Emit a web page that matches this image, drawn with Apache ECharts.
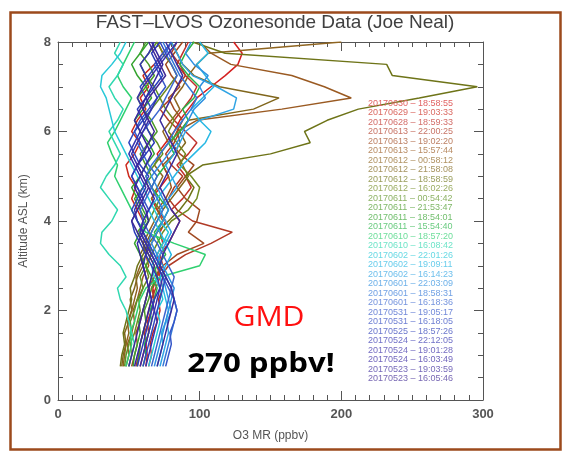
<!DOCTYPE html>
<html>
<head>
<meta charset="utf-8">
<script src="https://cdn.jsdelivr.net/npm/echarts@6/dist/echarts.min.js"></script>
<style>html,body{margin:0;padding:0;background:#fff;}#chart{width:568px;height:455px;}</style>
</head>
<body>
<div id="chart"></div>
<script>
// ---- Data ----
const altitudeKm = [0.75,1.0,1.25,1.5,1.75,2.0,2.25,2.5,2.75,3.0,3.25,3.5,3.75,4.0,4.25,4.5,4.75,5.0,5.25,5.5,5.75,6.0,6.25,6.5,6.75,7.0,7.25,7.5,7.75,8.0];
const launchNames = [
  "20170630 – 18:58:55","20170629 – 19:03:33","20170628 – 18:59:33","20170613 – 22:00:25",
  "20170613 – 19:02:20","20170613 – 15:57:44","20170612 – 00:58:12","20170612 – 21:58:08",
  "20170612 – 18:58:59","20170612 – 16:02:26","20170611 – 00:54:42","20170611 – 21:53:47",
  "20170611 – 18:54:01","20170611 – 15:54:40","20170610 – 18:57:20","20170610 – 16:08:42",
  "20170602 – 22:01:26","20170602 – 19:09:11","20170602 – 16:14:23","20170601 – 22:03:09",
  "20170601 – 18:58:31","20170601 – 16:18:36","20170531 – 19:05:17","20170531 – 16:18:05",
  "20170525 – 18:57:26","20170524 – 22:12:05","20170524 – 19:01:28","20170524 – 16:03:49",
  "20170523 – 19:03:59","20170523 – 16:05:46"
];
const ozonePpbv = [
  [62,63,62,64,63,66,68,67,70,72,70,74,72,76,70,66,72,78,74,70,76,82,86,92,98,108,118,127,130,124],
  [64,66,65,67,70,72,71,74,72,70,66,62,58,60,56,52,55,50,48,54,58,52,56,62,58,64,60,68,74,70],
  [58,60,62,61,64,66,68,66,70,74,72,78,82,86,80,88,94,90,84,92,98,90,82,88,94,98,90,84,88,92],
  [55,57,58,60,62,64,66,69,72,78,90,108,123,95,84,78,82,88,80,76,82,86,78,72,80,84,90,86,80,84],
  [52,54,56,55,58,60,62,64,68,74,84,103,92,98,100,90,84,90,96,86,80,84,88,82,78,86,80,76,82,88],
  [48,50,49,52,54,53,56,58,60,64,62,66,70,74,70,76,80,78,74,82,86,84,98,158,207,188,165,122,108,100],
  [46,47,48,50,49,52,54,56,55,58,62,60,64,68,72,66,70,74,68,72,78,74,80,86,82,88,92,98,106,200],
  [45,46,48,47,50,52,51,54,56,60,58,62,66,70,74,80,86,92,88,84,90,86,92,138,156,114,96,88,84,80],
  [44,45,47,46,48,50,52,51,54,56,60,64,70,78,86,92,96,90,102,150,178,174,190,212,255,296,236,232,118,95],
  [50,52,51,54,56,58,57,60,64,62,66,70,74,80,92,98,100,94,86,90,84,78,82,76,72,78,84,80,74,70],
  [47,48,50,52,51,54,56,60,58,62,66,64,60,64,68,72,66,62,68,74,70,64,60,66,72,68,62,58,64,70],
  [56,57,58,60,62,61,64,66,70,68,64,60,56,62,58,54,60,66,62,58,64,70,66,60,56,62,68,64,58,62],
  [53,54,56,58,57,60,62,64,66,62,58,54,58,64,60,56,52,58,62,68,64,58,54,60,66,62,56,52,58,64],
  [60,62,61,64,66,65,68,70,66,70,76,72,68,74,78,72,66,70,76,82,78,86,92,88,96,100,92,86,90,96],
  [48,50,52,51,54,56,58,62,72,100,104,82,62,56,52,48,44,40,42,38,35,40,44,48,52,46,42,46,50,54],
  [50,52,54,52,50,48,44,42,48,44,36,30,31,38,42,36,30,34,40,44,40,36,42,46,40,36,42,46,40,44],
  [64,66,68,70,72,70,74,72,68,66,70,74,78,72,68,64,60,56,52,48,44,40,38,36,34,30,31,38,44,48],
  [70,72,74,73,76,78,76,74,72,76,80,76,72,68,64,70,76,82,88,96,104,108,100,94,102,110,104,98,106,100],
  [72,74,76,78,77,80,78,76,74,70,72,76,80,76,72,78,84,80,76,82,86,90,100,124,126,112,95,88,84,80],
  [68,70,72,74,76,78,80,82,78,74,70,66,70,74,78,74,70,66,72,78,84,88,92,96,104,100,106,96,90,94],
  [74,76,78,80,82,84,82,80,76,72,68,64,66,70,74,70,66,62,66,72,78,82,88,94,98,92,86,82,78,74],
  [66,68,70,72,74,76,78,80,82,78,74,70,64,60,58,62,66,70,64,60,56,60,66,72,76,80,84,80,76,80],
  [76,78,80,79,82,84,82,78,74,70,66,62,58,60,64,60,56,52,56,62,58,54,58,64,70,76,72,68,74,80],
  [60,62,64,66,68,70,72,74,76,72,68,64,60,56,52,56,60,64,58,54,50,54,60,66,62,58,64,70,76,72],
  [56,58,60,62,64,66,68,72,70,66,62,58,54,52,56,60,56,52,56,62,68,64,60,56,62,68,74,70,66,72],
  [62,64,66,68,70,68,66,64,62,60,62,64,60,56,54,58,62,58,54,50,54,58,62,66,70,66,62,58,64,68],
  [58,60,62,64,66,68,70,72,74,70,66,62,58,60,64,68,64,60,56,52,56,60,64,60,56,60,66,72,78,84],
  [54,56,58,60,62,64,66,64,62,60,58,56,60,64,62,58,54,58,62,66,62,58,54,58,62,66,70,74,70,66],
  [70,72,74,76,78,80,82,80,76,72,74,78,82,86,80,76,72,76,80,84,80,76,72,76,80,84,88,84,80,76],
  [50,52,54,56,58,60,62,64,66,68,64,60,56,52,56,60,64,60,56,60,64,68,64,60,64,70,76,72,68,64]
];
const xTicks = [0, 100, 200, 300];
const yTicks = [0, 2, 4, 6, 8];

// ---- Styles ----
const lineColors = ["#d42020","#cc2a1e","#c0302a","#b03a26","#a04a22","#9a5a22","#8e6420","#80661c",
  "#6e7418","#708a20","#5e9224","#4a9a28","#36a430","#2ab44a","#30d070","#30d8b0","#28c8d8","#28b8e4",
  "#30a4e4","#3090e0","#3478d8","#3a66d0","#3456c8","#3048c0","#2c3cb8","#3434b0","#3a2ea8","#3626a0",
  "#3c2c9c","#402894"];
function lighten(hex, t) {
  const n = parseInt(hex.slice(1), 16);
  const r = (n >> 16) & 255, g = (n >> 8) & 255, b = n & 255;
  const m = c => Math.round(c + (255 - c) * t);
  return 'rgb(' + m(r) + ',' + m(g) + ',' + m(b) + ')';
}
const FONT = '"Liberation Sans", Arial, sans-serif';

const series = launchNames.map((name, i) => ({
  name: name,
  type: 'line',
  xAxisIndex: 0,
  yAxisIndex: 0,
  data: ozonePpbv[i].map((v, k) => [v, altitudeKm[k]]),
  showSymbol: false,
  symbol: 'none',
  smooth: false,
  lineStyle: { width: 1.5, color: lineColors[i] },
  itemStyle: { color: lineColors[i] },
  emphasis: { disabled: true },
  animation: false,
  clip: true
}));

function makeAxis(type, pos, interval, split, extra) {
  const ticks = type === 'x' ? xTicks : yTicks;
  return Object.assign({
    type: 'value',
    min: ticks[0], max: ticks[ticks.length - 1], interval: interval,
    position: pos,
    axisLine: { show: true, onZero: false, lineStyle: { color: '#555', width: 1 } },
    splitLine: { show: false },
    axisTick: { show: true, inside: true, length: 9, lineStyle: { color: '#555', width: 1 } },
    minorTick: { show: true, splitNumber: split, length: 5, lineStyle: { color: '#555', width: 1 } },
    axisLabel: { show: false }
  }, extra || {});
}

const chart = echarts.init(document.getElementById('chart'), null, { renderer: 'canvas' });
chart.setOption({
  animation: false,
  backgroundColor: '#fff',
  title: {
    text: 'FAST–LVOS Ozonesonde Data (Joe Neal)',
    left: 270, top: 8, textAlign: 'center',
    textStyle: { fontFamily: FONT, fontSize: 19, fontWeight: 'normal', color: '#404040' }
  },
  grid: { left: 58, right: 85, top: 42, bottom: 55 },
  xAxis: [
    makeAxis('x', 'bottom', 100, 10, {
      name: 'O3 MR (ppbv)', nameLocation: 'middle', nameGap: 30,
      nameTextStyle: { fontFamily: FONT, fontSize: 12, color: '#555' },
      axisLabel: { show: true, fontFamily: FONT, fontSize: 13, fontWeight: 'bold', color: '#555', margin: 8 }
    }),
    makeAxis('x', 'top', 100, 10)
  ],
  yAxis: [
    makeAxis('y', 'left', 2, 4, {
      name: 'Altitude ASL (km)', nameLocation: 'middle', nameGap: 28,
      nameTextStyle: { fontFamily: FONT, fontSize: 12, color: '#555' },
      axisLabel: { show: true, fontFamily: FONT, fontSize: 13, fontWeight: 'bold', color: '#555', margin: 7 }
    }),
    makeAxis('y', 'right', 2, 4)
  ],
  legend: {
    orient: 'vertical',
    left: 361, top: 99,
    itemWidth: 2, itemHeight: 9, itemGap: 0.5,
    icon: 'none',
    itemStyle: { opacity: 0 },
    lineStyle: { opacity: 0 },
    selectedMode: false,
    padding: 0,
    textStyle: { fontFamily: FONT, fontSize: 9 },
    data: launchNames.map((n, i) => ({ name: n, textStyle: { color: lighten(lineColors[i], 0.3) } }))
  },
  graphic: [
    { type: 'rect', left: 8, top: 10, shape: { width: 550, height: 437 },
      style: { fill: 'none', stroke: '#9c4a1c', lineWidth: 2.5 }, silent: true },
    { type: 'text', x: 269, y: 318, scaleX: 1.08,
      style: { text: 'GMD', fill: '#ff1010', font: '28px "Open Sans", "Liberation Sans", sans-serif', textAlign: 'center', textVerticalAlign: 'middle' } },
    { type: 'text', x: 261, y: 365, scaleX: 1.2,
      style: { text: '270 ppbv!', fill: '#000', font: 'bold 26px "Open Sans", "Liberation Sans", sans-serif', textAlign: 'center', textVerticalAlign: 'middle' } }
  ],
  series: series
});
</script>
</body>
</html>
